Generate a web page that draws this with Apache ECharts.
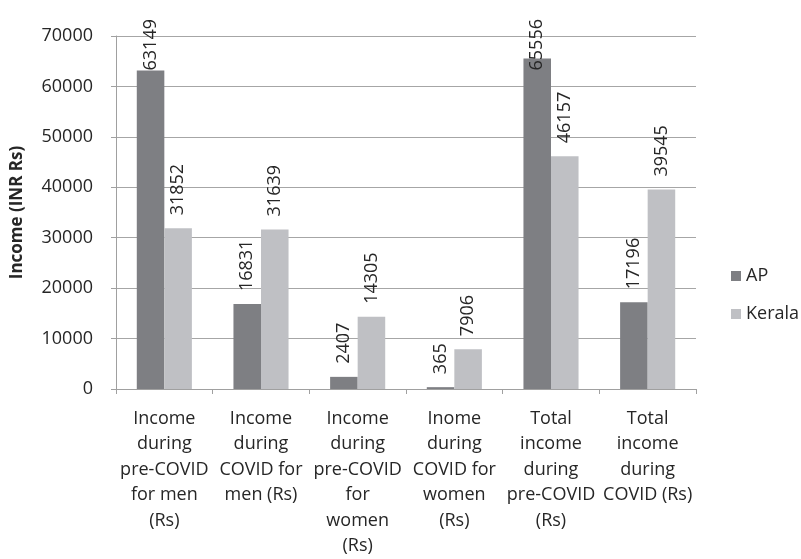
<!DOCTYPE html>
<html>
<head>
<meta charset="utf-8">
<script src="https://cdn.jsdelivr.net/npm/echarts@6/dist/echarts.min.js"></script>
<style>html,body{margin:0;padding:0;background:#fff}#c{width:801px;height:559px}</style>
</head>
<body>
<div id="c"></div>
<script>
var categories = [
  "Income\nduring\npre-COVID\nfor men\n(Rs)",
  "Income\nduring\nCOVID for\nmen (Rs)",
  "Income\nduring\npre-COVID\nfor\nwomen\n(Rs)",
  "Inome\nduring\nCOVID for\nwomen\n(Rs)",
  "Total\nincome\nduring\npre-COVID\n(Rs)",
  "Total\nincome\nduring\nCOVID (Rs)"
];
var apValues = [63149, 16831, 2407, 365, 65556, 17196];
var keralaValues = [31852, 31639, 14305, 7906, 46157, 39545];
var seriesNames = ["AP", "Kerala"];
var yTitle = "Income (INR Rs)";

var FONT = "Open Sans";
var TXT = "#262626";
var chart = echarts.init(document.getElementById('c'), null, {renderer: 'canvas'});
var labelCfg = {
  show: true, position: 'top', rotate: 90, distance: 13,
  align: 'left', verticalAlign: 'middle',
  fontFamily: FONT, fontSize: 18, color: TXT
};
chart.setOption({
  animation: false,
  textStyle: {fontFamily: FONT},
  grid: {left: 116, right: 105, top: 36, bottom: 170, containLabel: false},
  legend: {
    orient: 'vertical', left: 731, top: 267, padding: 0,
    itemWidth: 10, itemHeight: 10, itemGap: 20,
    icon: 'rect',
    textStyle: {fontFamily: FONT, fontSize: 18, color: TXT, padding: [0, 0, 0, 0]},
    data: seriesNames
  },
  xAxis: {
    type: 'category', data: categories,
    axisLine: {lineStyle: {color: '#a0a0a0', width: 1}},
    axisTick: {show: true, alignWithLabel: false, length: 5, lineStyle: {color: '#a0a0a0'}},
    axisLabel: {interval: 0, margin: 17, fontFamily: FONT, fontSize: 18, lineHeight: 25.5, color: TXT, align: 'center'}
  },
  yAxis: {
    type: 'value', min: 0, max: 70000, interval: 10000,
    name: yTitle, nameLocation: 'middle', nameRotate: 90, nameGap: 90,
    nameTextStyle: {fontFamily: FONT, fontSize: 17, fontWeight: 'bold', color: TXT},
    axisLine: {show: true, lineStyle: {color: '#a0a0a0', width: 1}},
    axisTick: {show: true, length: 5, lineStyle: {color: '#a0a0a0'}},
    axisLabel: {margin: 23, fontFamily: FONT, fontSize: 18, color: TXT,
      formatter: function (v) { return String(v); }},
    splitLine: {show: true, lineStyle: {color: '#a6a6a6', width: 1}}
  },
  labelLayout: function (p) {
    var minTop = 19;
    var textLen = Math.max(p.labelRect.width, p.labelRect.height);
    var idealBottom = p.rect.y - 13;
    if (idealBottom - textLen < minTop) {
      return {y: minTop + textLen};
    }
    return {};
  },
  series: [
    {name: seriesNames[0], type: 'bar', data: apValues, barGap: '0%', barCategoryGap: '43%',
     itemStyle: {color: '#7e7f83'}, label: labelCfg},
    {name: seriesNames[1], type: 'bar', data: keralaValues, barGap: '0%', barCategoryGap: '43%',
     itemStyle: {color: '#bfc0c4'}, label: labelCfg}
  ]
});
</script>
</body>
</html>
